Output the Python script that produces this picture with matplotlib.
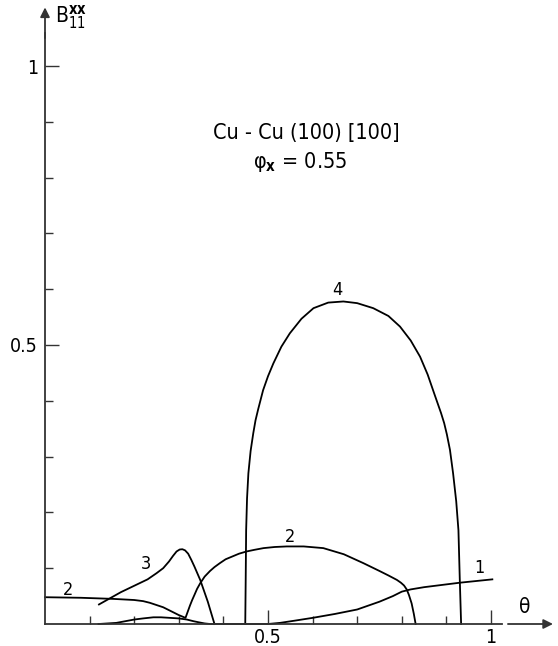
import matplotlib
matplotlib.use("Agg")
import matplotlib.pyplot as plt
import numpy as np

plt.rcParams['font.family'] = ['DejaVu Sans']
plt.rcParams['font.stretch'] = 'condensed'
plt.rcParams['mathtext.fontset'] = 'dejavusans'

# Curve 1
c1_theta = [0.12, 0.16, 0.20, 0.22, 0.243, 0.26, 0.28, 0.30, 0.318, 0.333, 0.345, 0.358,
            0.37, 0.50, 0.527, 0.56, 0.60, 0.65, 0.70, 0.75, 0.78, 0.80, 0.82, 0.85,
            0.93, 1.003]
c1_b = [0.0, 0.002, 0.008, 0.010, 0.012, 0.012, 0.011, 0.010, 0.008, 0.005, 0.003, 0.001,
        0.0, 0.0, 0.002, 0.006, 0.011, 0.018, 0.026, 0.040, 0.050, 0.058, 0.062, 0.066,
        0.074, 0.080]

# Curve 2
c2_theta = [0.0, 0.08, 0.153, 0.20, 0.22, 0.235, 0.25, 0.265, 0.28, 0.29, 0.30, 0.315,
            0.320, 0.325, 0.330, 0.335, 0.341, 0.348, 0.358, 0.37, 0.38, 0.392, 0.405,
            0.42, 0.435, 0.452, 0.47, 0.49, 0.515, 0.542, 0.58, 0.624, 0.67, 0.714,
            0.75, 0.77, 0.789, 0.798, 0.805, 0.811, 0.816, 0.822, 0.827, 0.831]
c2_b = [0.048, 0.047, 0.045, 0.043, 0.041, 0.038, 0.034, 0.030, 0.024, 0.020, 0.016, 0.011,
        0.022, 0.033, 0.043, 0.052, 0.063, 0.073, 0.085, 0.095, 0.102, 0.109, 0.116,
        0.121, 0.126, 0.130, 0.133, 0.136, 0.138, 0.139, 0.139, 0.136, 0.125, 0.109,
        0.095, 0.087, 0.079, 0.074, 0.069, 0.062, 0.052, 0.037, 0.018, 0.0]

# Curve 3
c3_theta = [0.121, 0.17, 0.23, 0.25, 0.265, 0.278, 0.287, 0.295, 0.302, 0.308, 0.314,
            0.321, 0.328, 0.335, 0.348, 0.365, 0.38]
c3_b = [0.035, 0.057, 0.080, 0.091, 0.100, 0.112, 0.122, 0.130, 0.1335, 0.134, 0.132,
        0.126, 0.115, 0.103, 0.079, 0.040, 0.0]

# Curve 4
c4_theta = [0.449, 0.450, 0.451, 0.453, 0.456, 0.461, 0.467, 0.472, 0.478, 0.489, 0.500,
            0.512, 0.530, 0.549, 0.575, 0.602, 0.635, 0.669, 0.700, 0.736, 0.770,
            0.796, 0.820, 0.841, 0.858, 0.874, 0.888, 0.895, 0.901, 0.908, 0.915,
            0.922, 0.927, 0.930, 0.933]
c4_b = [0.0, 0.08, 0.168, 0.225, 0.270, 0.310, 0.342, 0.365, 0.385, 0.419, 0.444,
        0.467, 0.497, 0.521, 0.547, 0.566, 0.576, 0.578, 0.575, 0.566, 0.552,
        0.533, 0.508, 0.479, 0.447, 0.410, 0.378, 0.360, 0.340, 0.312, 0.270,
        0.220, 0.168, 0.080, 0.0]

curve_labels = ["1", "2", "2", "3", "4"]
label_theta = [0.975, 0.549, 0.052, 0.226, 0.655]
label_b = [0.100, 0.156, 0.061, 0.108, 0.599]

title_line1 = "Cu - Cu (100) [100]"
title_line2 = "φ$_{\\mathbf{x}}$ = 0.55"

fig = plt.figure(figsize=(5.58, 6.46), dpi=100)
xmax, ymax = 1.15, 1.12
ax = fig.add_axes([45 / 558, 22 / 646, xmax * 446 / 558, ymax * 558 / 646])
ax.set_xlim(0, xmax)
ax.set_ylim(0, ymax)
for s in ax.spines.values():
    s.set_visible(False)

lw = 1.3
for th, b in [(c1_theta, c1_b), (c2_theta, c2_b), (c3_theta, c3_b), (c4_theta, c4_b)]:
    ax.plot(th, b, color='black', lw=lw, solid_joinstyle='round', clip_on=False)

for t, x, y in zip(curve_labels, label_theta, label_b):
    ax.text(x, y, t, fontsize=13, ha='center', va='center')

# axes with arrows
axis_color = '#333333'
ax.plot([0, 0], [0, 1.06], color=axis_color, lw=1.3, clip_on=False)
ax.annotate('', xy=(0, 1.105), xytext=(0, 1.05),
            arrowprops=dict(arrowstyle='-|>', color=axis_color, lw=1.3,
                            mutation_scale=14, shrinkA=0, shrinkB=0),
            annotation_clip=False)
ax.plot([0, 1.025], [0, 0], color=axis_color, lw=1.3, clip_on=False)
ax.annotate('', xy=(1.139, 0), xytext=(1.038, 0),
            arrowprops=dict(arrowstyle='-|>', color=axis_color, lw=1.3,
                            mutation_scale=14, shrinkA=0, shrinkB=0),
            annotation_clip=False)

# ticks
ax.set_xticks([0.5, 1.0])
ax.set_xticklabels(["0.5", "1"])
ax.set_yticks([0.5, 1.0])
ax.set_yticklabels(["0.5", "1"])
ax.set_xticks(np.arange(0.1, 1.01, 0.1), minor=True)
ax.set_yticks(np.arange(0.1, 1.01, 0.1), minor=True)
ax.tick_params(which='major', direction='in', length=10, width=1.0, labelsize=14,
               color=axis_color, pad=5)
ax.tick_params(which='minor', direction='in', length=6, width=1.0, color=axis_color)
ax.tick_params(axis='x', which='major', pad=3)

ax.text(1.075, 0.03, "θ", fontsize=15, ha='center', va='center')
ax.text(0.022, 1.088, r"B$_{11}^{\mathbf{xx}}$", fontsize=15, ha='left', va='center')

ax.text(0.587, 0.880, title_line1, fontsize=15.5, ha='center', va='center')
ax.text(0.572, 0.828, title_line2, fontsize=15.5, ha='center', va='center')

fig.savefig("out.png", dpi=100)
